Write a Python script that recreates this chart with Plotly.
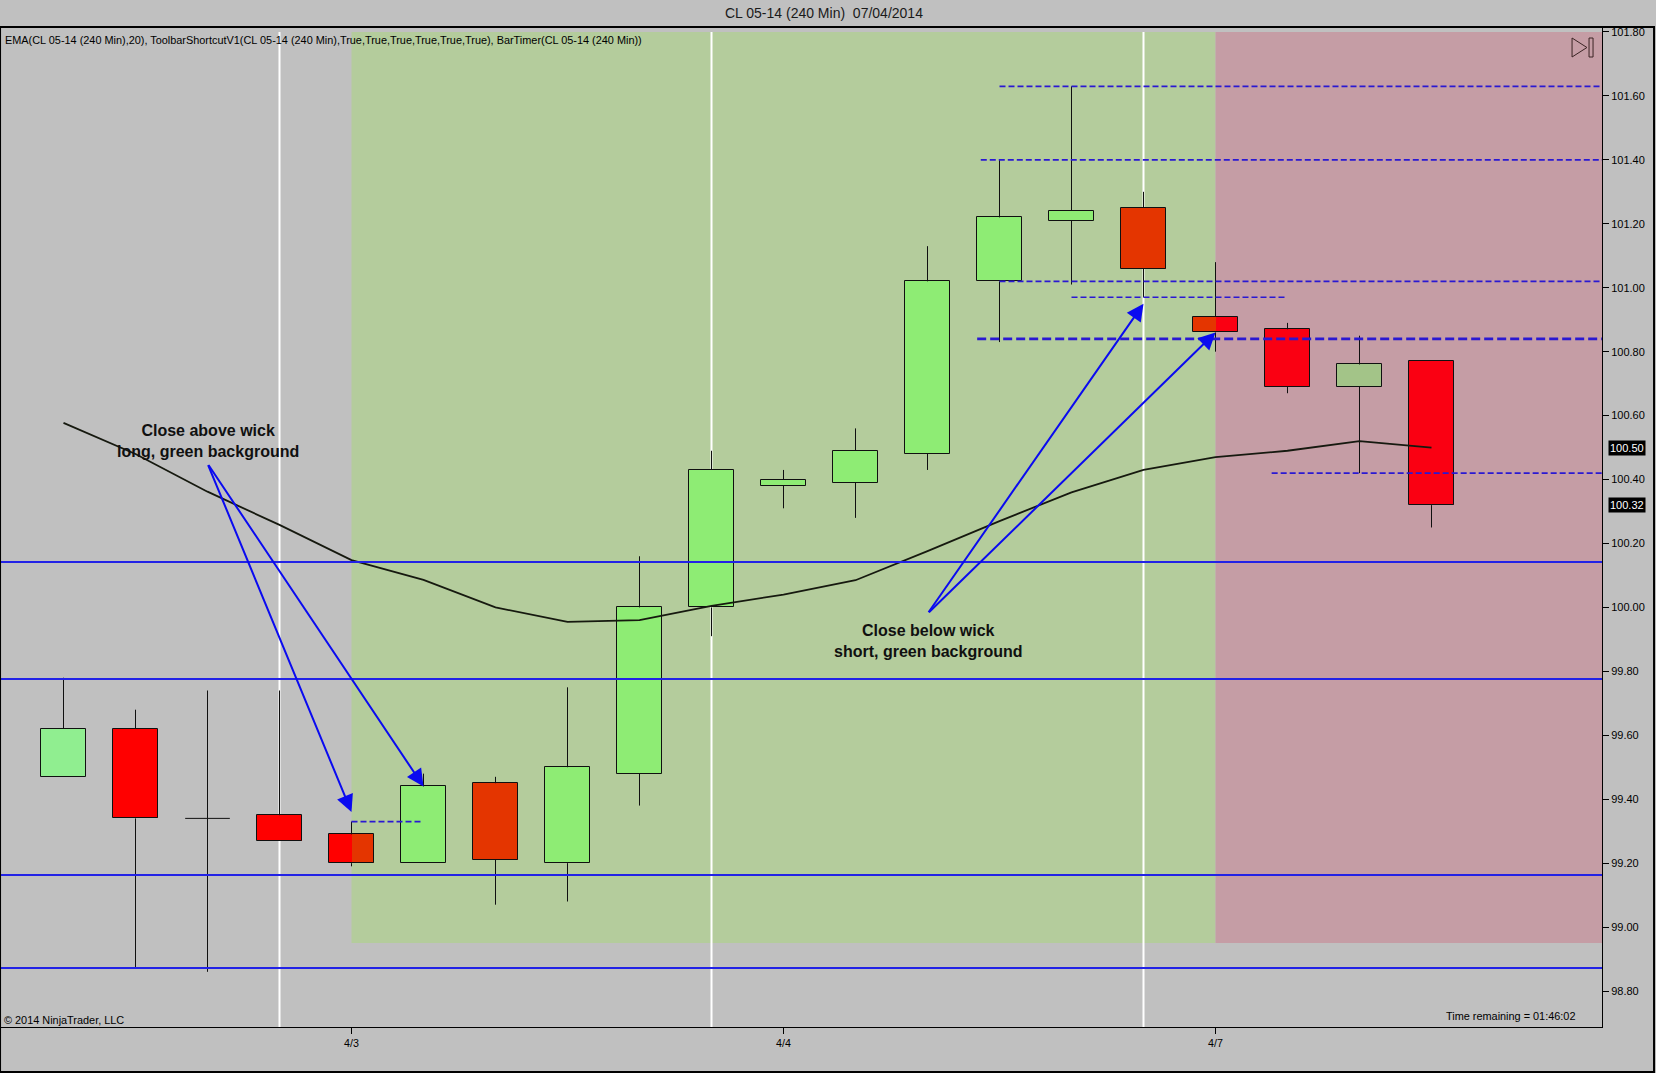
import plotly.graph_objects as go

# --- CL 05-14, 240 min bars, 2 Apr - 7 Apr 2014 (bar index 0..19) ---
bars = list(range(20))
opens = [99.47, 99.62, 99.34, 99.35, 99.29, 99.20, 99.45, 99.20, 99.48, 100.00,
         100.38, 100.39, 100.48, 101.02, 101.21, 101.25, 100.91, 100.87, 100.69, 100.77]
highs = [99.78, 99.68, 99.74, 99.74, 99.33, 99.48, 99.47, 99.75, 100.16, 100.49,
         100.43, 100.56, 101.13, 101.40, 101.63, 101.30, 101.08, 100.89, 100.85, 100.77]
lows = [99.47, 98.875, 98.86, 99.27, 99.19, 99.20, 99.07, 99.08, 99.38, 99.91,
        100.31, 100.28, 100.43, 100.83, 101.01, 100.97, 100.80, 100.67, 100.42, 100.25]
closes = [99.62, 99.34, 99.34, 99.27, 99.20, 99.44, 99.21, 99.50, 100.00, 100.43,
          100.40, 100.49, 101.02, 101.22, 101.24, 101.06, 100.86, 100.69, 100.76, 100.32]
ema20 = [100.577, 100.48, 100.362, 100.258, 100.148, 100.086, 100.00, 99.955, 99.96, 100.005,
         100.04, 100.085, 100.176, 100.27, 100.36, 100.43, 100.47, 100.49, 100.52, 100.50]

date_ticks = [4, 10, 16]
date_labels = ['4/3', '4/4', '4/7']
session_breaks = [3, 9, 15]
price_ticks = [98.80, 99.00, 99.20, 99.40, 99.60, 99.80, 100.00, 100.20,
               100.40, 100.60, 100.80, 101.00, 101.20, 101.40, 101.60, 101.80]

# background signal zones
long_from = 4      # green background from this bar
short_from = 16    # red background from this bar
back_floor = 98.95
back_top = 101.80

# drawn levels
support_levels = [100.142, 99.776, 99.163, 98.872]
wick_levels = [101.63, 101.40, 101.02, 100.97, 100.42, 99.33]
wick_from = [13.0, 12.74, 13.0, 14.0, 16.78, 4.0]
wick_to = [None, None, None, 17.0, None, 5.0]   # None -> to right edge
entry_level = 100.84
entry_from = 12.69

X_MIN, X_MAX = -0.868, 21.368
Y_MIN, Y_MAX = 98.6874, 101.8156
HALF = 0.31
FONT = 'Liberation Sans, Arial, sans-serif'

BODY = {
    'flat': {'up': '#90EE90', 'down': '#FF0000'},
    'long': {'up': '#8EEC74', 'down': '#E43500'},
    'short': {'up': '#A3C488', 'down': '#FA0012'},
}


def zone(i):
    if i < long_from:
        return 'flat'
    if i < short_from:
        return 'long'
    return 'short'


def side(o, c):
    return 'up' if c >= o else 'down'


fig = go.Figure()

# --- candle bodies ---
body_x, body_base, body_h, body_col = [], [], [], []
doji_x, doji_y = [], []
for i, o, c in zip(bars, opens, closes):
    if abs(c - o) < 0.005:
        doji_x += [i - HALF, i + HALF, None]
        doji_y += [c, c, None]
        continue
    body_x.append(i)
    body_base.append(min(o, c))
    body_h.append(abs(c - o))
    body_col.append(BODY[zone(i)][side(o, c)])

fig.add_trace(go.Bar(x=body_x, y=body_h, base=body_base, width=2 * HALF,
                     marker=dict(color=body_col, line=dict(width=0))))

# candles sitting on a zone border keep the old colour on their left half
for b in (long_from, short_from):
    o, c = opens[b], closes[b]
    fig.add_trace(go.Bar(x=[b], y=[abs(c - o)], base=[min(o, c)], width=HALF, offset=-HALF,
                         marker=dict(color=BODY[zone(b - 1)][side(o, c)], line=dict(width=0))))

fig.add_trace(go.Bar(x=body_x, y=body_h, base=body_base, width=2 * HALF,
                     marker=dict(color='rgba(0,0,0,0)', line=dict(color='#101010', width=1))))

# --- wicks ---
wick_x, wick_y = [], []
for i, o, h, l, c in zip(bars, opens, highs, lows, closes):
    top, bot = max(o, c), min(o, c)
    if h > top:
        wick_x += [i, i, None]
        wick_y += [h, top, None]
    if l < bot:
        wick_x += [i, i, None]
        wick_y += [bot, l, None]
fig.add_trace(go.Scatter(x=wick_x, y=wick_y, mode='lines',
                         line=dict(color='#101010', width=1), hoverinfo='skip'))
fig.add_trace(go.Scatter(x=doji_x, y=doji_y, mode='lines',
                         line=dict(color='#101010', width=1), hoverinfo='skip'))

# --- EMA(20) ---
fig.add_trace(go.Scatter(x=bars, y=ema20, mode='lines',
                         line=dict(color='#16190f', width=1.8)))

# --- horizontal levels ---
for lvl in support_levels:
    fig.add_trace(go.Scatter(x=[X_MIN, X_MAX], y=[lvl, lvl], mode='lines',
                             line=dict(color='#2222E6', width=2), hoverinfo='skip'))
for lvl, x0, x1 in zip(wick_levels, wick_from, wick_to):
    fig.add_trace(go.Scatter(x=[x0, X_MAX if x1 is None else x1], y=[lvl, lvl], mode='lines',
                             line=dict(color='#2A18D2', width=1.6, dash='6px,3px'),
                             hoverinfo='skip'))
fig.add_trace(go.Scatter(x=[entry_from, X_MAX], y=[entry_level, entry_level], mode='lines',
                         line=dict(color='#2A18D2', width=2.8, dash='9px,4px'),
                         hoverinfo='skip'))

# --- price tags on the axis ---
tags = [ema20[-1], closes[-1]]
fig.add_trace(go.Scatter(x=[X_MAX + 0.055] * len(tags), y=tags, mode='markers',
                         marker=dict(symbol='triangle-left', size=9, color='black'),
                         cliponaxis=False, hoverinfo='skip'))
for v in tags:
    fig.add_annotation(x=1, xref='paper', y=v, yref='y', xanchor='left', xshift=6,
                       text=f'{v:.2f}', showarrow=False, bgcolor='black', borderpad=1,
                       font=dict(family=FONT, size=11, color='white'))

# --- background zones and session breaks ---
fig.add_shape(type='rect', x0=long_from, x1=short_from, y0=back_floor, y1=back_top,
              xref='x', yref='y', fillcolor='#B4CC9C', line=dict(width=0), layer='below')
fig.add_shape(type='rect', x0=short_from, x1=X_MAX, y0=back_floor, y1=back_top,
              xref='x', yref='y', fillcolor='#C59DA5', line=dict(width=0), layer='below')
for s in session_breaks:
    fig.add_shape(type='line', x0=s, x1=s, y0=Y_MIN, y1=back_top, xref='x', yref='y',
                  line=dict(color='white', width=2), layer='below')

# --- arrows with notes ---
notes = [
    ('Close above wick<br>long, green background', (2.0, 100.52), (2.0, 100.45),
     [(4.0, 99.36), (5.0, 99.44)]),
    ('Close below wick<br>short, green background', (12.0, 99.895), (12.0, 99.98),
     [(15.0, 100.95), (16.0, 100.86)]),
]
for text, at, tail, tips in notes:
    fig.add_annotation(x=at[0], y=at[1], text=text, showarrow=False,
                       font=dict(family=FONT, size=16, color='#101010', weight='bold'))
    for tx, ty in tips:
        fig.add_annotation(x=tx, y=ty, ax=tail[0], ay=tail[1], axref='x', ayref='y',
                           text='', showarrow=True, arrowhead=2, arrowsize=1.7,
                           arrowwidth=2, arrowcolor='#0A0AF0', standoff=0)

# --- chart furniture ---
small = dict(family=FONT, size=10.9, color='black')
fig.add_annotation(x=0.514, y=1.014, xref='paper', yref='paper', yanchor='middle',
                   text='CL 05-14 (240 Min)\u00a0\u00a007/04/2014', showarrow=False,
                   font=dict(family=FONT, size=14, color='#1a1a1a'))
fig.add_annotation(x=0.0012, y=0.987, xref='paper', yref='paper', xanchor='left',
                   yanchor='middle', showarrow=False, font=small,
                   text='EMA(CL 05-14 (240 Min),20), ToolbarShortcutV1(CL 05-14 (240 Min),'
                        'True,True,True,True,True,True), BarTimer(CL 05-14 (240 Min))')
fig.add_annotation(x=0.0006, y=0.0075, xref='paper', yref='paper', xanchor='left',
                   yanchor='middle', showarrow=False, font=small,
                   text='\u00a9 2014 NinjaTrader, LLC')
fig.add_annotation(x=0.9844, y=0.011, xref='paper', yref='paper', xanchor='right',
                   yanchor='middle', showarrow=False, font=small,
                   text='Time remaining = 01:46:02')

# "scroll to end" button, top right
fig.add_shape(type='path', xref='paper', yref='paper',
              path='M 0.9813,0.989 L 0.9906,0.9795 L 0.9813,0.970 Z',
              line=dict(color='#3a2424', width=1))
fig.add_shape(type='rect', xref='paper', yref='paper', x0=0.9919, x1=0.9944, y0=0.970, y1=0.989,
              line=dict(color='#3a2424', width=1))

# outer window frame
fig.add_shape(type='rect', xref='paper', yref='paper', x0=-0.0006, x1=1.0325, y0=-0.045, y1=1.0,
              line=dict(color='black', width=2))

fig.update_layout(
    width=1656, height=1073,
    margin=dict(l=1, r=54, t=27, b=46),
    paper_bgcolor='#C0C0C0', plot_bgcolor='#C0C0C0',
    showlegend=False, barmode='overlay', bargap=0,
    font=dict(family=FONT, color='black'),
    xaxis=dict(range=[X_MIN, X_MAX], tickvals=date_ticks, ticktext=date_labels,
               showgrid=False, zeroline=False, ticks='outside', ticklen=6,
               tickcolor='black', tickfont=dict(size=10.7),
               showline=True, linecolor='black', linewidth=1, mirror=True),
    yaxis=dict(range=[Y_MIN, Y_MAX], side='right', tickvals=price_ticks,
               ticktext=[f'{p:.2f}' for p in price_ticks],
               showgrid=False, zeroline=False, ticks='outside', ticklen=6,
               tickcolor='black', tickfont=dict(size=11),
               showline=True, linecolor='black', linewidth=1, mirror=True),
)

# the page's default body margin would push the chart off the window
fig.write_html('out.html', config={'displayModeBar': False},
               post_script="document.body.style.margin = '0';")
